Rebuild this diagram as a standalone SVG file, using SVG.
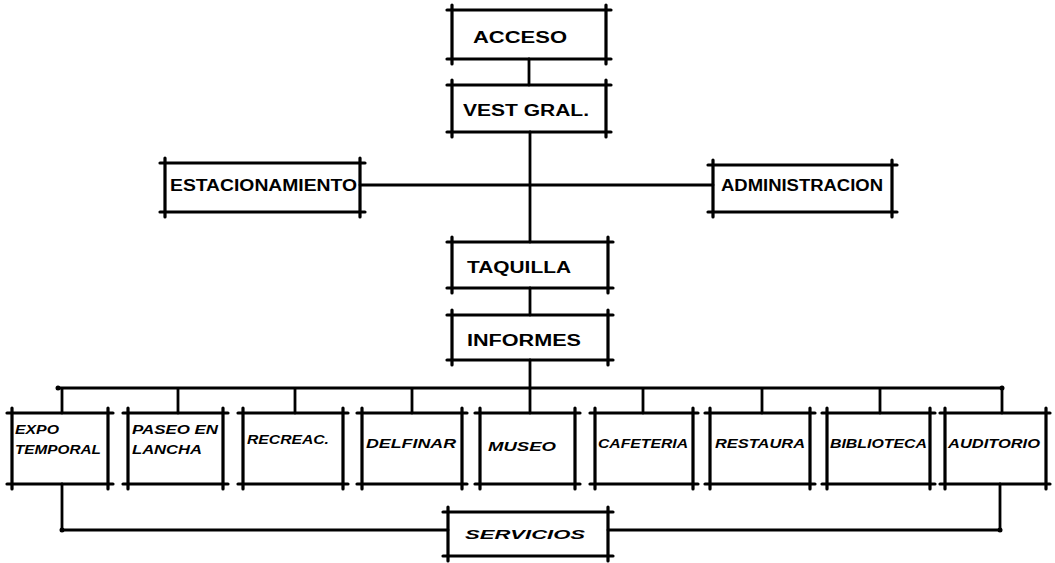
<svg xmlns="http://www.w3.org/2000/svg" width="1055" height="563" viewBox="0 0 1055 563">
<style>
.bx{fill:none;stroke:#000;stroke-width:3.2;stroke-linecap:round}
.ln{fill:none;stroke:#000;stroke-width:2.8;stroke-linecap:round}
.dot{fill:#000}
.t{font-family:"Liberation Sans",Arial,sans-serif;font-weight:bold;font-size:16px;fill:#000}
.s{font-family:"Liberation Sans",Arial,sans-serif;font-weight:bold;font-style:italic;font-size:13px;fill:#000}
</style>
<rect width="1055" height="563" fill="#fff"/>
<g id="connectors">
<path class="ln" d="M529 59V85M530 132V242M360 185H713M530 288V315M530 360V413M58 388H1002M62 388V413M178 388V413M295 388V413M412 388V413M643 388V413M762 388V413M880 388V413M1002 388V413M62 484V530H448M608 530H1000V484"/>
<circle class="dot" cx="58" cy="388" r="2.5"/><circle class="dot" cx="1002" cy="388" r="2.5"/>
<circle class="dot" cx="62" cy="530" r="2.5"/><circle class="dot" cx="1000" cy="530" r="2.5"/>
</g>
<g id="acceso"><path class="bx" d="M447 10H611M447 59H611M452 5V64M606 5V64"/><text class="t" x="473" y="43" textLength="94" lengthAdjust="spacingAndGlyphs">ACCESO</text></g>
<g id="vest"><path class="bx" d="M447 85H611M447 132H611M452 80V137M606 80V137"/><text class="t" x="463" y="116" textLength="126" lengthAdjust="spacingAndGlyphs">VEST GRAL.</text></g>
<g id="estacionamiento"><path class="bx" d="M160 163H365M160 212H365M165 158V217M360 158V217"/><text class="t" x="170" y="191" font-size="14" textLength="187" lengthAdjust="spacingAndGlyphs">ESTACIONAMIENTO</text></g>
<g id="administracion"><path class="bx" d="M708 165H897M708 212H897M713 160V217M892 160V217"/><text class="t" x="721" y="191" font-size="14" textLength="162" lengthAdjust="spacingAndGlyphs">ADMINISTRACION</text></g>
<g id="taquilla"><path class="bx" d="M447 242H613M447 288H613M452 237V293M608 237V293"/><text class="t" x="467" y="273" textLength="104" lengthAdjust="spacingAndGlyphs">TAQUILLA</text></g>
<g id="informes"><path class="bx" d="M447 315H613M447 360H613M452 310V365M608 310V365"/><text class="t" x="467" y="346" textLength="114" lengthAdjust="spacingAndGlyphs">INFORMES</text></g>
<g id="expo"><path class="bx" d="M7 413H113M7 484H113M12 408V489M108 408V489"/><text class="s" x="15" y="434" textLength="44" lengthAdjust="spacingAndGlyphs">EXPO</text><text class="s" x="15" y="454" textLength="86" lengthAdjust="spacingAndGlyphs">TEMPORAL</text></g>
<g id="paseo"><path class="bx" d="M123 413H228M123 484H228M128 408V489M223 408V489"/><text class="s" x="132" y="434" textLength="86" lengthAdjust="spacingAndGlyphs">PASEO EN</text><text class="s" x="132" y="454" textLength="70" lengthAdjust="spacingAndGlyphs">LANCHA</text></g>
<g id="recreac"><path class="bx" d="M238 413H348M238 484H348M243 408V489M343 408V489"/><text class="s" x="247" y="444" textLength="82" lengthAdjust="spacingAndGlyphs">RECREAC.</text></g>
<g id="delfinar"><path class="bx" d="M357 413H467M357 484H467M362 408V489M462 408V489"/><text class="s" x="366" y="448" textLength="90" lengthAdjust="spacingAndGlyphs">DELFINAR</text></g>
<g id="museo"><path class="bx" d="M475 413H580M475 484H580M480 408V489M575 408V489"/><text class="s" x="488" y="451" font-size="15" textLength="68" lengthAdjust="spacingAndGlyphs">MUSEO</text></g>
<g id="cafeteria"><path class="bx" d="M590 413H698M590 484H698M595 408V489M693 408V489"/><text class="s" x="598" y="448" textLength="90" lengthAdjust="spacingAndGlyphs">CAFETERIA</text></g>
<g id="restaura"><path class="bx" d="M705 413H815M705 484H815M710 408V489M810 408V489"/><text class="s" x="715" y="448" textLength="90" lengthAdjust="spacingAndGlyphs">RESTAURA</text></g>
<g id="biblioteca"><path class="bx" d="M822 413H935M822 484H935M827 408V489M930 408V489"/><text class="s" x="830" y="448" textLength="97" lengthAdjust="spacingAndGlyphs">BIBLIOTECA</text></g>
<g id="auditorio"><path class="bx" d="M940 413H1050M940 484H1050M945 408V489M1046 408V489"/><text class="s" x="948" y="448" textLength="92" lengthAdjust="spacingAndGlyphs">AUDITORIO</text></g>
<g id="servicios"><path class="bx" d="M443 512H613M443 556H613M448 507V561M608 507V561"/><text class="s" x="465" y="539" textLength="120" lengthAdjust="spacingAndGlyphs">SERVICIOS</text></g>
</svg>
